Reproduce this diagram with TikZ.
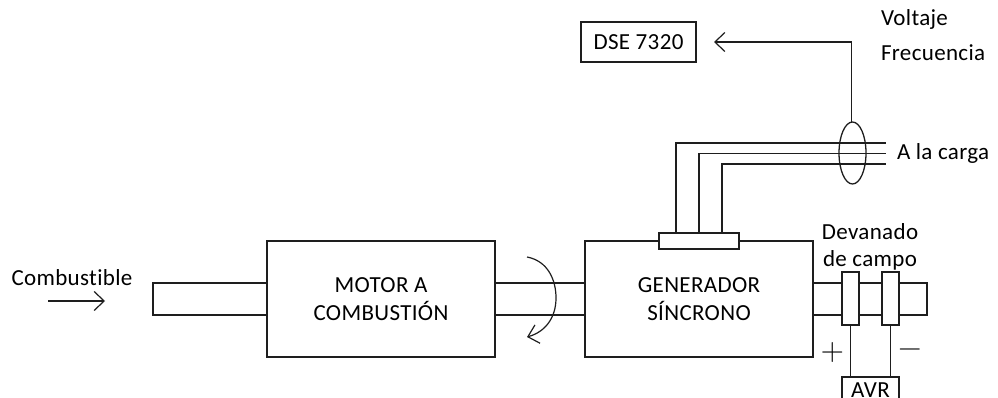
\documentclass[tikz,border=0pt]{standalone}
\usepackage{fontspec}
\setmainfont[LetterSpace=1.5,Ligatures=NoCommon]{Carlito}
\newfontfamily\lmfont{Latin Modern Roman}
\usetikzlibrary{arrows.meta,shapes.geometric}
\definecolor{ink}{HTML}{1E1E1E}
\tikzset{
  base/.style={draw=ink,line width=1.3pt,inner sep=0pt,outer sep=0pt,align=center,text=black},
  blockbox/.style={base,rectangle,minimum width=228pt,minimum height=116pt},
  wire/.style={draw=ink,line width=1.3pt},
  thinarrow/.style={draw=ink,line width=1.2pt,-{Straight Barb[length=10pt,width=19pt,line width=1.2pt]}},
  ringbox/.style={base,rectangle,fill=white,minimum width=17pt,minimum height=53pt},
  lbl/.style={inner sep=0pt,outer sep=0pt,align=center,text=black},
  txt/.style={font=\fontsize{23}{27.5}\selectfont}
}
\begin{document}
\begin{tikzpicture}[x=1pt,y=-1pt,txt]
\useasboundingbox (0,0) rectangle (998,398);
\clip (0,0) rectangle (998,398);
% coordinates
\coordinate (sT) at (0,283);
\coordinate (sB) at (0,315);
\coordinate (fuelEnd) at (153,0);
\coordinate (shaftEnd) at (927,0);
\coordinate (w1x) at (676,0);
\coordinate (w2x) at (699,0);
\coordinate (w3x) at (722,0);
\coordinate (w1e) at (886,143);
\coordinate (w2e) at (886,153.5);
\coordinate (w3e) at (886,164);
\coordinate (fa) at (48,301);
\coordinate (fb) at (105,301);
\coordinate (ra) at (527,257);
\coordinate (rb) at (527,337);
\coordinate (elbow) at (851.5,42);
% blocks
\node[blockbox] (motor) at (381,299) {MOTOR A\\COMBUSTIÓN};
\node[blockbox] (gen) at (699,299) {GENERADOR\\SÍNCRONO};
\node[base,minimum width=115pt,minimum height=40pt] (dse) at (638.5,42) {DSE 7320};
% shafts
\draw[wire] (motor.west |- sT) -- (fuelEnd |- sT) -- (fuelEnd |- sB) -- (motor.west |- sB);
\draw[wire] (motor.east |- sT) -- (gen.west |- sT);
\draw[wire] (motor.east |- sB) -- (gen.west |- sB);
\draw[wire] (gen.east |- sT) -- (shaftEnd |- sT) -- (shaftEnd |- sB) -- (gen.east |- sB);
% connector plate and rings
\node[base,fill=white,minimum width=80pt,minimum height=16pt] (plate) at (699,241) {};
\node[ringbox] (r1) at (850.5,298.5) {};
\node[ringbox] (r2) at (890.5,298.5) {};
\node[base,minimum width=57pt,minimum height=30pt] (avr) at (870.5,392) {};
\node[lbl] (avrt) at (870.5,390) {AVR};
\draw[wire] (r1.south) -- (r1.south |- avr.north);
\draw[wire] (r2.south) -- (r2.south |- avr.north);
% output wires
\draw[wire] (w1x |- plate.north) |- (w1e);
\draw[wire] (w2x |- plate.north) |- (w2e);
\draw[wire] (w3x |- plate.north) |- (w3e);
% sensor
\node[base,ellipse,minimum width=27pt,minimum height=62pt] (ct) at (852.5,153) {};
\draw[thinarrow] (ct.north -| elbow) -- (elbow) -- (dse.east -| 714,0);
% arrows
\draw[thinarrow] (fa) -- (fb);
\draw[thinarrow] (ra) .. controls (548,261) and (556,280) .. (556,298) .. controls (556,318) and (545,332) .. (rb);
% labels
\node[lbl,anchor=west] (volt) at (881,19) {Voltaje};
\node[lbl,anchor=west] (frec) at (881,53) {Frecuencia};
\node[lbl,anchor=west] (carga) at (897,153) {A la carga};
\node[lbl] (comb) at (72,278) {Combustible};
\node[lbl] (dev) at (870,247) {Devanado\\de campo};
\node[lbl,font=\lmfont\fontsize{32}{32}\selectfont] (plus) at (832.5,353) {+};
\node[lbl,font=\lmfont\fontsize{32}{32}\selectfont] (minus) at (910,353) {−};
\end{tikzpicture}
\end{document}
